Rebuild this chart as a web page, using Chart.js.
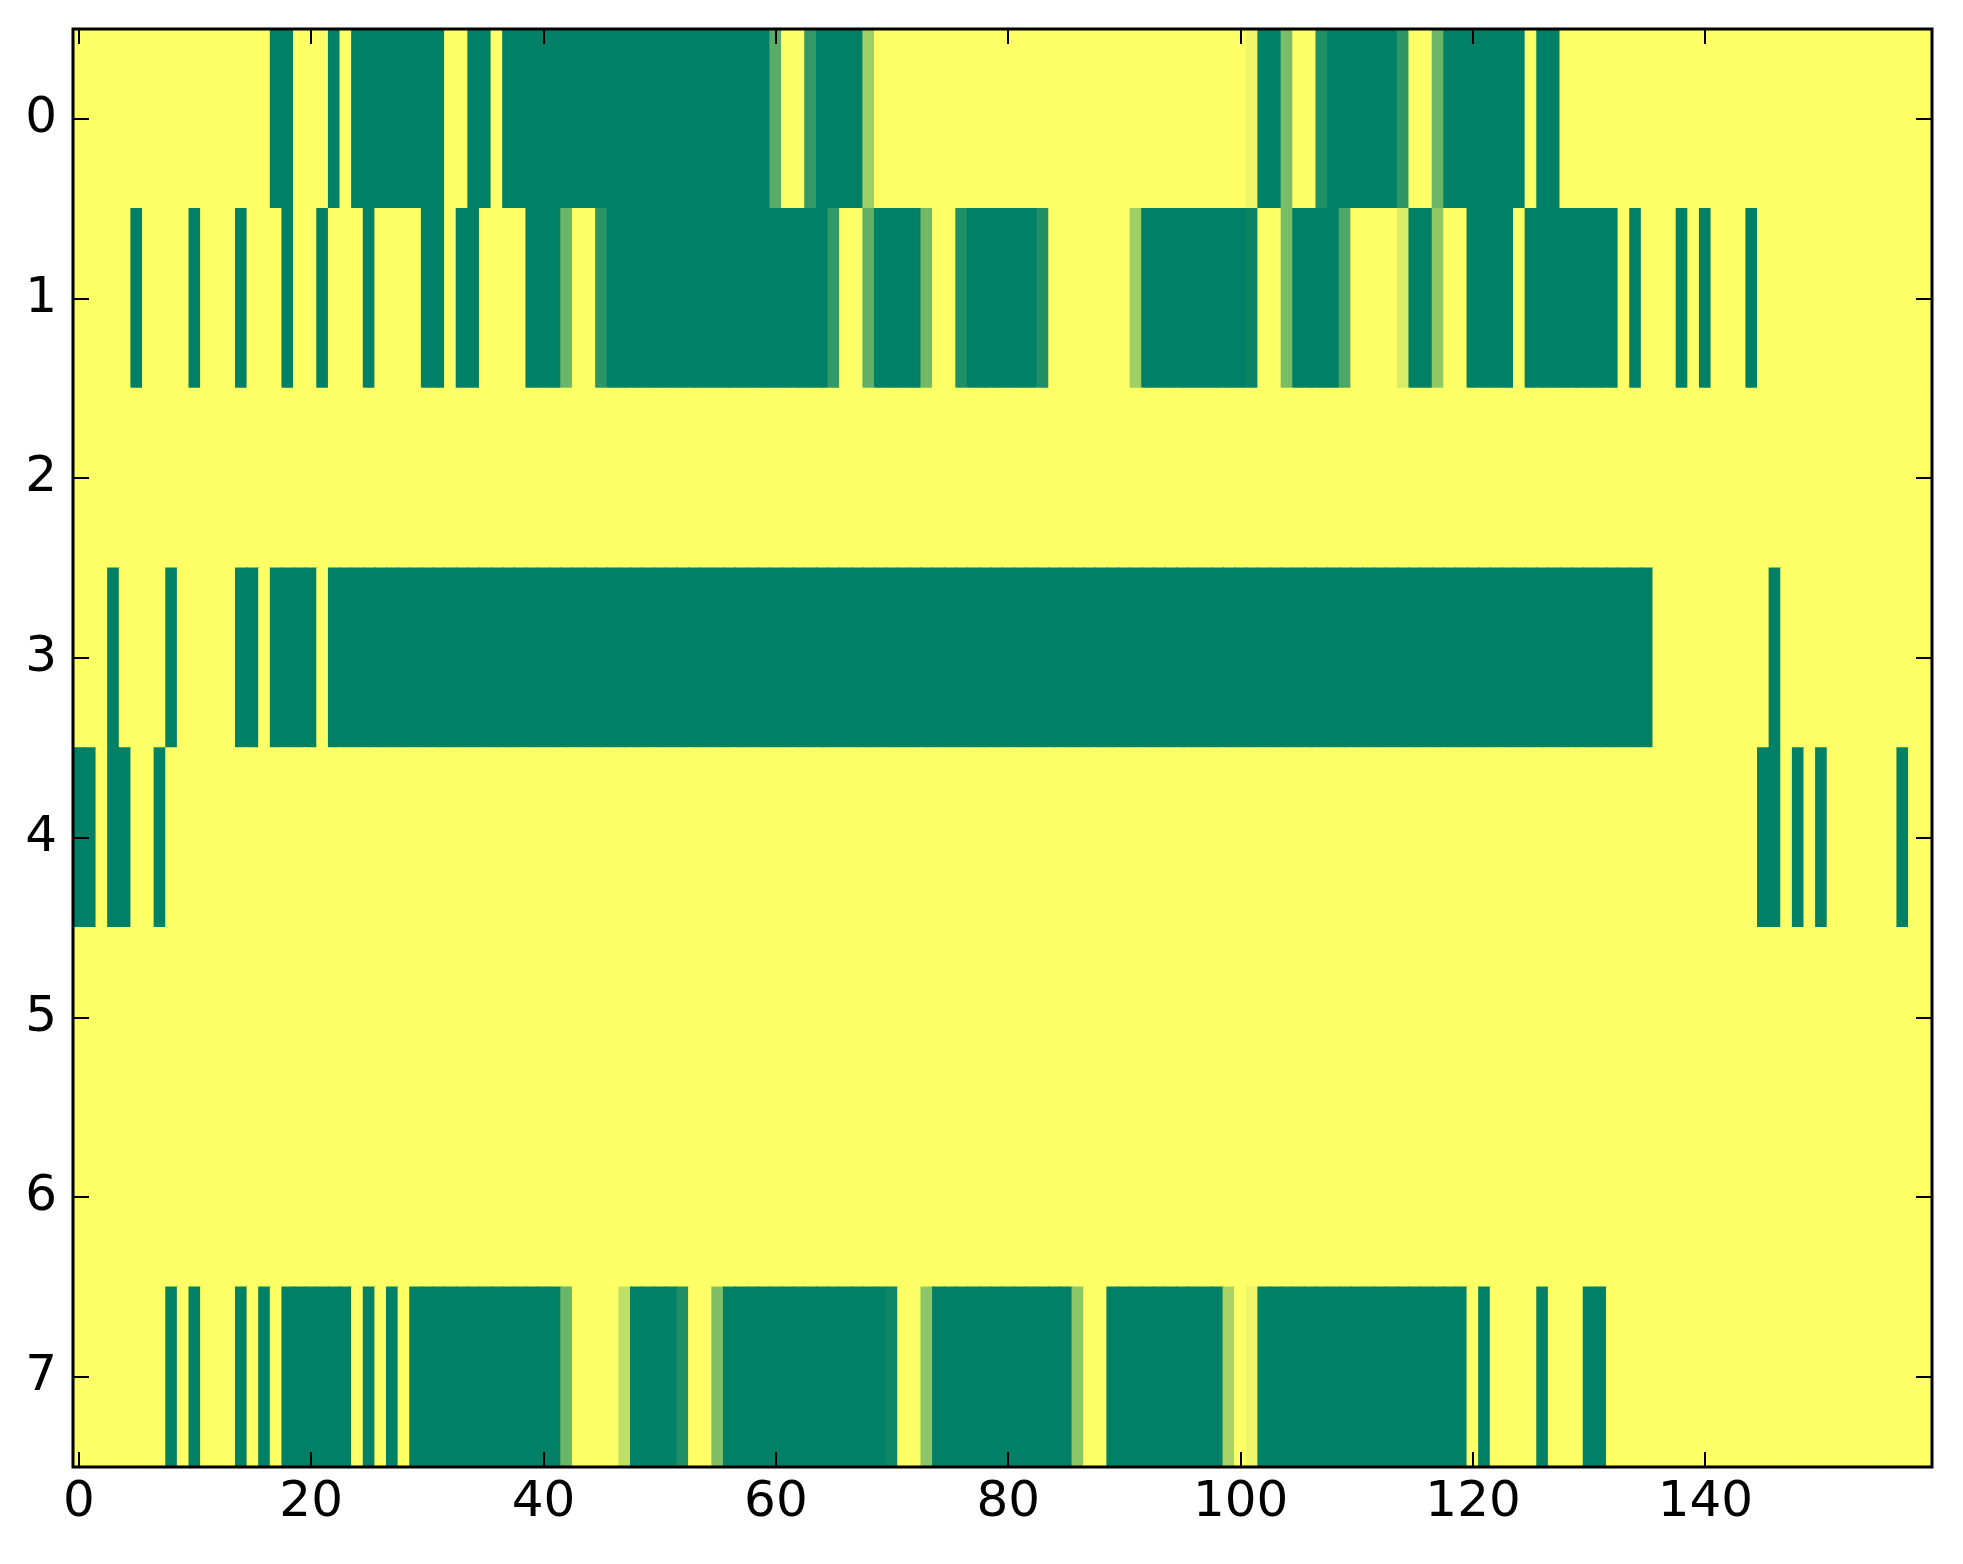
<!DOCTYPE html>
<html>
<head>
<meta charset="utf-8">
<script src="https://cdn.jsdelivr.net/npm/chart.js@4/dist/chart.umd.min.js"></script>
<style>
  html, body { margin: 0; padding: 0; background: #fff; }
  canvas { display: block; }
</style>
</head>
<body>
<canvas id="heat" width="1963" height="1564"></canvas>
<script>
// cell values per row (0 = dark green, 1 = yellow), one entry per column
const row0 = [
  1,1,1,1,1,1,1,1,1,1, 1,1,1,1,1,1,1,0,0,1, 1,1,0,1,0,0,0,0,0,0, 0,0,1,1,0,0,1,0,0,0,
  0,0,0,0,0,0,0,0,0,0, 0,0,0,0,0,0,0,0,0,0, 0.35,1,1,0.2,0,0,0,0,0.62,1, 1,1,1,1,1,1,1,1,1,1,
  1,1,1,1,1,1,1,1,1,1, 1,1,1,1,1,1,1,1,1,1, 1,0.93,0,0,0.48,1,1,0.12,0,0, 0,0,0,0,0.18,1,1,0.42,0,0,
  0,0,0,0,0,1,0,0,1,1, 1,1,1,1,1,1,1,1,1,1, 1,1,1,1,1,1,1,1,1,1, 1,1,1,1,1,1,1,1,1,1
];
const row1 = [
  1,1,1,1,1,0,1,1,1,1, 0,1,1,1,0,1,1,1,0,1, 1,0,1,1,1,0,1,1,1,1, 0,0,1,0,0,1,1,1,1,0,
  0,0,0.42,1,1,0.17,0,0,0,0, 0,0,0,0,0,0,0,0,0,0, 0,0,0,0,0,0.2,1,1,0.38,0, 0,0,0,0.45,1,1,0.12,0,0,0,
  0,0,0,0.12,1,1,1,1,1,1, 1,0.62,0,0,0,0,0,0,0,0, 0,0.03,1,1,0.48,0,0,0,0,0.3, 1,1,1,1,0.85,0,0,0.57,1,1,
  0,0,0,0,1,0,0,0,0,0, 0,0,0,1,0,1,1,1,0,1, 0,1,1,1,0,1,1,1,1,1, 1,1,1,1,1,1,1,1,1,1
];
const row2 = [
  1,1,1,1,1,1,1,1,1,1, 1,1,1,1,1,1,1,1,1,1, 1,1,1,1,1,1,1,1,1,1, 1,1,1,1,1,1,1,1,1,1,
  1,1,1,1,1,1,1,1,1,1, 1,1,1,1,1,1,1,1,1,1, 1,1,1,1,1,1,1,1,1,1, 1,1,1,1,1,1,1,1,1,1,
  1,1,1,1,1,1,1,1,1,1, 1,1,1,1,1,1,1,1,1,1, 1,1,1,1,1,1,1,1,1,1, 1,1,1,1,1,1,1,1,1,1,
  1,1,1,1,1,1,1,1,1,1, 1,1,1,1,1,1,1,1,1,1, 1,1,1,1,1,1,1,1,1,1, 1,1,1,1,1,1,1,1,1,1
];
const row3 = [
  1,1,1,0,1,1,1,1,0,1, 1,1,1,1,0,0,1,0,0,0, 0,1,0,0,0,0,0,0,0,0, 0,0,0,0,0,0,0,0,0,0,
  0,0,0,0,0,0,0,0,0,0, 0,0,0,0,0,0,0,0,0,0, 0,0,0,0,0,0,0,0,0,0, 0,0,0,0,0,0,0,0,0,0,
  0,0,0,0,0,0,0,0,0,0, 0,0,0,0,0,0,0,0,0,0, 0,0,0,0,0,0,0,0,0,0, 0,0,0,0,0,0,0,0,0,0,
  0,0,0,0,0,0,0,0,0,0, 0,0,0,0,0,0,1,1,1,1, 1,1,1,1,1,1,0,1,1,1, 1,1,1,1,1,1,1,1,1,1
];
const row4 = [
  0,0,1,0,0,1,1,0,1,1, 1,1,1,1,1,1,1,1,1,1, 1,1,1,1,1,1,1,1,1,1, 1,1,1,1,1,1,1,1,1,1,
  1,1,1,1,1,1,1,1,1,1, 1,1,1,1,1,1,1,1,1,1, 1,1,1,1,1,1,1,1,1,1, 1,1,1,1,1,1,1,1,1,1,
  1,1,1,1,1,1,1,1,1,1, 1,1,1,1,1,1,1,1,1,1, 1,1,1,1,1,1,1,1,1,1, 1,1,1,1,1,1,1,1,1,1,
  1,1,1,1,1,1,1,1,1,1, 1,1,1,1,1,1,1,1,1,1, 1,1,1,1,1,0,0,1,0,1, 0,1,1,1,1,1,1,0,1,1
];
const row5 = [
  1,1,1,1,1,1,1,1,1,1, 1,1,1,1,1,1,1,1,1,1, 1,1,1,1,1,1,1,1,1,1, 1,1,1,1,1,1,1,1,1,1,
  1,1,1,1,1,1,1,1,1,1, 1,1,1,1,1,1,1,1,1,1, 1,1,1,1,1,1,1,1,1,1, 1,1,1,1,1,1,1,1,1,1,
  1,1,1,1,1,1,1,1,1,1, 1,1,1,1,1,1,1,1,1,1, 1,1,1,1,1,1,1,1,1,1, 1,1,1,1,1,1,1,1,1,1,
  1,1,1,1,1,1,1,1,1,1, 1,1,1,1,1,1,1,1,1,1, 1,1,1,1,1,1,1,1,1,1, 1,1,1,1,1,1,1,1,1,1
];
const row6 = [
  1,1,1,1,1,1,1,1,1,1, 1,1,1,1,1,1,1,1,1,1, 1,1,1,1,1,1,1,1,1,1, 1,1,1,1,1,1,1,1,1,1,
  1,1,1,1,1,1,1,1,1,1, 1,1,1,1,1,1,1,1,1,1, 1,1,1,1,1,1,1,1,1,1, 1,1,1,1,1,1,1,1,1,1,
  1,1,1,1,1,1,1,1,1,1, 1,1,1,1,1,1,1,1,1,1, 1,1,1,1,1,1,1,1,1,1, 1,1,1,1,1,1,1,1,1,1,
  1,1,1,1,1,1,1,1,1,1, 1,1,1,1,1,1,1,1,1,1, 1,1,1,1,1,1,1,1,1,1, 1,1,1,1,1,1,1,1,1,1
];
const row7 = [
  1,1,1,1,1,1,1,1,0,1, 0,1,1,1,0,1,0,1,0,0, 0,0,0,0,1,0,1,0,1,0, 0,0,0,0,0,0,0,0,0,0,
  0,0,0.42,1,1,1,1,0.75,0,0, 0,0,0.12,1,1,0.5,0,0,0,0, 0,0,0,0,0,0,0,0,0,0, 0.05,1,1,0.55,0,0,0,0,0,0,
  0,0,0,0,0,0,0.55,1,1,0, 0,0,0,0,0,0,0,0,0,0.66, 1,0.93,0,0,0,0,0,0,0,0, 0,0,0,0,0,0,0,0,0,0,
  1,0,1,1,1,1,0,1,1,1, 0,0,1,1,1,1,1,1,1,1, 1,1,1,1,1,1,1,1,1,1, 1,1,1,1,1,1,1,1,1,1
];
const rows = [row0, row1, row2, row3, row4, row5, row6, row7];
const xTicks = [0, 20, 40, 60, 80, 100, 120, 140];
const yTicks = [0, 1, 2, 3, 4, 5, 6, 7];

// matplotlib "summer" colormap
function summer(v) {
  const r = Math.round(255 * v);
  const g = Math.round(255 * (0.5 + 0.5 * v));
  return 'rgb(' + r + ',' + g + ',102)';
}

const cells = [];
const cellColors = [];
rows.forEach((vals, r) => {
  vals.forEach((v, c) => {
    cells.push({ x: c, y: [r - 0.5, r + 0.5] });
    cellColors.push(summer(v));
  });
});

// inward ticks on all four sides plus the black frame, like old matplotlib
const frame = {
  id: 'frame',
  afterDraw(chart) {
    const { ctx, chartArea: a, scales: { x, y } } = chart;
    ctx.save();
    ctx.strokeStyle = '#000';
    ctx.lineWidth = 2;
    ctx.beginPath();
    xTicks.forEach(v => {
      const px = Math.round(x.getPixelForValue(v));
      ctx.moveTo(px, a.bottom); ctx.lineTo(px, a.bottom - 15);
      ctx.moveTo(px, a.top); ctx.lineTo(px, a.top + 15);
    });
    yTicks.forEach(v => {
      const py = Math.round(y.getPixelForValue(v));
      ctx.moveTo(a.left, py); ctx.lineTo(a.left + 16, py);
      ctx.moveTo(a.right, py); ctx.lineTo(a.right - 16, py);
    });
    ctx.stroke();
    ctx.lineWidth = 3;
    ctx.strokeRect(a.left, a.top, a.right - a.left, a.bottom - a.top);
    ctx.restore();
  }
};

const tickFont = { family: 'DejaVu Sans', size: 50 };

new Chart(document.getElementById('heat').getContext('2d'), {
  type: 'bar',
  data: {
    datasets: [{
      data: cells,
      backgroundColor: cellColors,
      borderWidth: 0,
      inflateAmount: 0.7,
      barPercentage: 1,
      categoryPercentage: 1
    }]
  },
  options: {
    responsive: false,
    animation: false,
    devicePixelRatio: 1,
    events: [],
    layout: { padding: { top: 29, right: 31, left: 0, bottom: 0 } },
    plugins: { legend: { display: false }, tooltip: { enabled: false } },
    scales: {
      x: {
        type: 'linear',
        offset: false,
        min: -0.5,
        max: 159.5,
        grid: { display: false, drawTicks: false, offset: false },
        border: { display: false },
        afterBuildTicks: s => { s.ticks = xTicks.map(v => ({ value: v })); },
        afterFit: s => { s.height = 97; s.paddingLeft = 0; s.paddingRight = 0; },
        ticks: { font: tickFont, color: '#000', padding: 6, maxRotation: 0, autoSkip: false }
      },
      y: {
        type: 'linear',
        reverse: true,
        min: -0.5,
        max: 7.5,
        grid: { display: false, drawTicks: false },
        border: { display: false },
        afterBuildTicks: s => { s.ticks = yTicks.map(v => ({ value: v })); },
        afterFit: s => { s.width = 73; s.paddingTop = 0; s.paddingBottom = 0; },
        ticks: { font: tickFont, color: '#000', padding: 16, autoSkip: false }
      }
    }
  },
  plugins: [frame]
});
</script>
</body>
</html>
